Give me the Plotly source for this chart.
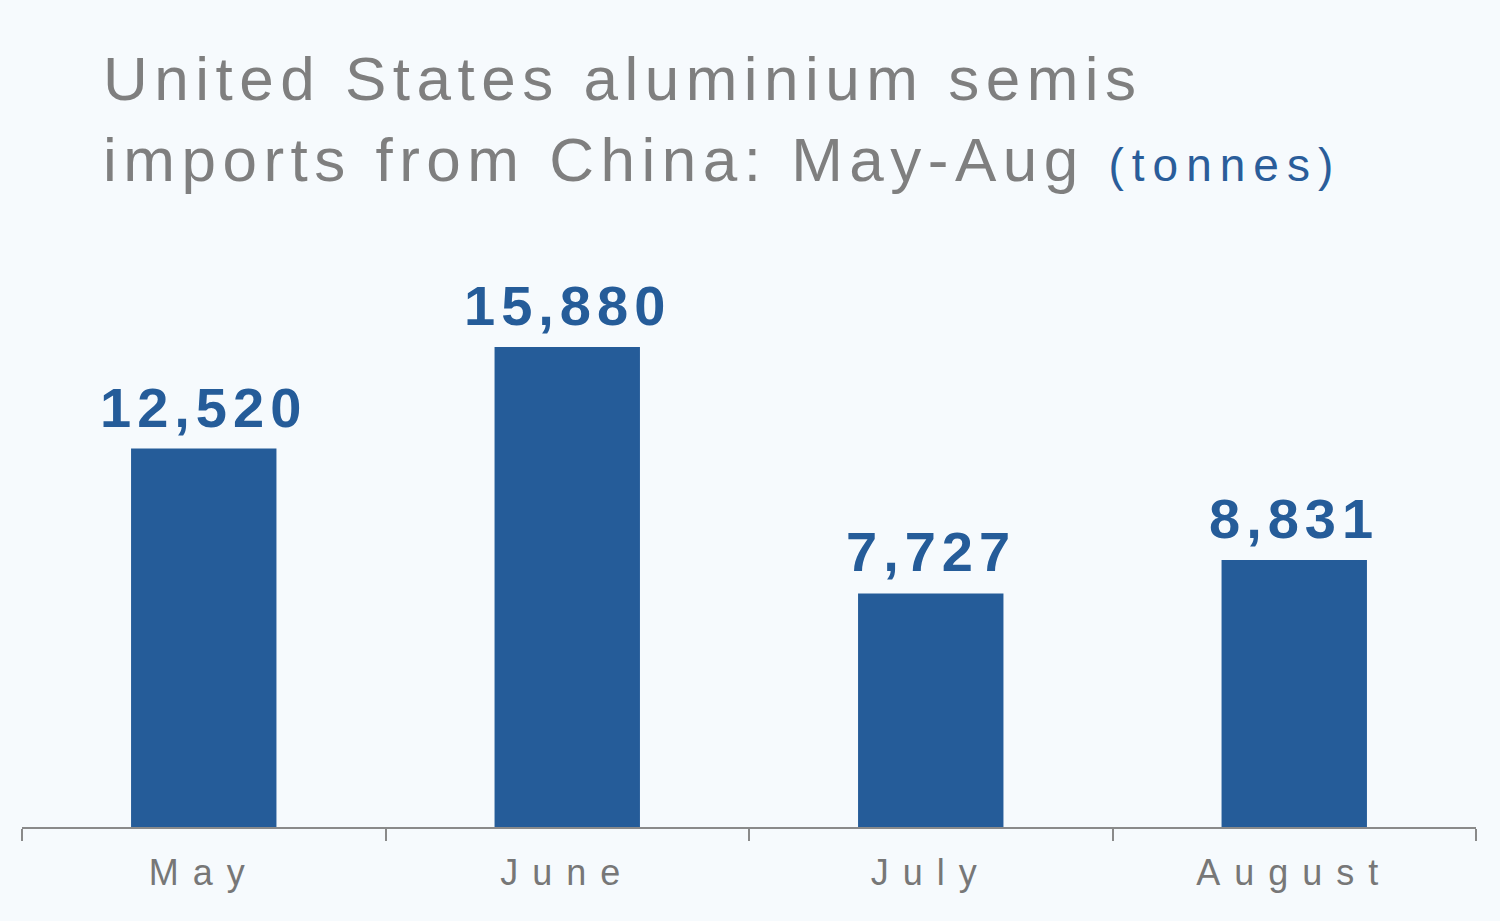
import plotly.graph_objects as go

months = ["May", "June", "July", "August"]
tonnes = [12520, 15880, 7727, 8831]
labels = ["12,520", "15,880", "7,727", "8,831"]

title_main = "United States aluminium semis<br>imports from China: May-Aug"
title_unit = "(tonnes)"

BAR = "#255c99"
GRAY = "#7f7f7f"
BG = "#f6fafd"

fig = go.Figure()
fig.add_trace(go.Bar(x=months, y=tonnes, width=0.4, marker=dict(color=BAR, line=dict(width=0)),
                     hoverinfo="skip"))

for m, v, t in zip(months, tonnes, labels):
    fig.add_annotation(x=m, y=v, text=t, showarrow=False, yanchor="bottom", yshift=8,
                       font=dict(family="Liberation Sans, Arial", size=56, color=BAR, weight="bold"))

fig.update_layout(
    width=1500, height=921,
    paper_bgcolor=BG, plot_bgcolor=BG,
    margin=dict(l=22, r=24, t=227, b=94),
    showlegend=False,
    title=dict(
        text=title_main + ' <span style="font-size:46px;color:#2a5d9a;letter-spacing:8px">' + title_unit + '</span>',
        xref="container", yref="container", x=103/1500, xanchor="left",
        y=1 - 100/921, yanchor="top",
        font=dict(family="Liberation Sans, Arial", size=62, color=GRAY),
    ),
    xaxis=dict(
        showline=True, linecolor="#8a8a8a", linewidth=1.5,
        ticks="outside", ticklen=12, tickcolor="#8a8a8a", tickwidth=1.5,
        tickson="boundaries", showgrid=False, ticklabelstandoff=13,
        tickfont=dict(family="Liberation Sans, Arial", size=36, color="#777777"),
    ),
    yaxis=dict(visible=False, range=[0, 19850], showgrid=False, zeroline=False),
)

post = """
var gd = document.getElementById('{plot_id}');
function ls(){
  gd.querySelectorAll('.gtitle').forEach(function(e){e.style.letterSpacing='6.5px';});
  gd.querySelectorAll('.xtick text').forEach(function(e){e.style.letterSpacing='14px';});
  gd.querySelectorAll('.annotation-text').forEach(function(e){e.style.letterSpacing='6px';});
}
ls();
gd.on('plotly_afterplot', ls);
"""
fig.write_html("out.html", post_script=post)
